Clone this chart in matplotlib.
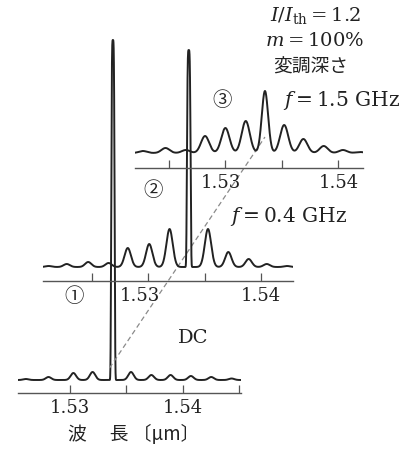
import numpy as np
import matplotlib
matplotlib.use("Agg")
import matplotlib.pyplot as plt
from matplotlib.transforms import ScaledTranslation

plt.rcParams['font.family'] = ['DejaVu Serif']
plt.rcParams['mathtext.fontset'] = 'dejavuserif'

INK = '#222222'
CJK = ['Noto Sans CJK JP', 'DejaVu Sans']

# ピーク波長 [um] と強度 (任意単位)
dc_wl = [1.5261, 1.5281, 1.5303, 1.5320, 1.5338, 1.5354, 1.5372, 1.5389, 1.5407, 1.5425, 1.5443]
dc_int = [1, 3, 7, 8, 340, 8, 5, 5, 4, 3, 1.5]

f04_wl = [1.5212, 1.5228, 1.5247, 1.5265, 1.5282, 1.5301, 1.5319, 1.5336, 1.5353, 1.5371, 1.5389, 1.5405, 1.5423]
f04_int = [1, 3, 5, 4, 19, 23, 38, 217, 38, 15, 8, 3, 1]

f15_wl = [1.5227, 1.5247, 1.5265, 1.5282, 1.5300, 1.5318, 1.5335, 1.5352, 1.5369, 1.5387, 1.5404, 1.5419]
f15_int = [2, 5, 3, 17, 25, 32, 62, 28, 14, 7, 3, 1]

ticks = [1.525, 1.53, 1.535, 1.54, 1.545]
tick_labels = {1.53: '1.53', 1.54: '1.54'}
peak_wl = 1.5335

W, H = 410, 453
PX_PER_UM = 11300.0

# (xmin, xmax, 左端px, 軸px, ベースラインpx, 幅σ, 主ピークσ, 主ピーク次数)
panels = [
    (dc_wl, dc_int, 1.5254, 1.5451, 18, 393, 380, 0.00024, 0.00014, 4),
    (f04_wl, f04_int, 1.5207, 1.5428, 43, 281, 267, 0.00028, 0.00015, 4),
    (f15_wl, f15_int, 1.5220, 1.5422, 135, 168, 153, 0.00036, 0.00028, 2),
]

fig = plt.figure(figsize=(W / 100, H / 100), dpi=100)
axes = []
for wl, inten, x0, x1, left, yax, ybase, sig, sig_main, order in panels:
    ax = fig.add_axes([left / W, 1 - yax / H, (x1 - x0) * PX_PER_UM / W, yax / H])
    ax.patch.set_visible(False)
    xs = np.linspace(x0, x1, 6000)
    imax = int(np.argmax(inten))
    ys = np.zeros_like(xs)
    for i, (c, h) in enumerate(zip(wl, inten)):
        if i == imax:
            ys += h * np.exp(-0.5 * np.abs((xs - c) / sig_main) ** order)
        else:
            ys += h * np.exp(-0.5 * ((xs - c) / sig) ** 2)
    ax.plot(xs, ys, color=INK, lw=1.4, solid_joinstyle='round')
    ax.set_xlim(x0, x1)
    ax.set_ylim(-(yax - ybase), ybase)
    for sp in ['top', 'left', 'right']:
        ax.spines[sp].set_visible(False)
    ax.spines['bottom'].set_color('#555555')
    ax.spines['bottom'].set_linewidth(1.0)
    tk = [t for t in ticks if x0 - 1e-6 <= t <= x1 + 1e-6]
    ax.set_xticks(tk)
    ax.set_xticklabels([tick_labels.get(round(t, 3), '') for t in tk])
    ax.tick_params(axis='x', direction='in', length=6, width=0.9, color='#555555',
                   labelsize=13, labelcolor=INK, pad=4)
    ax.set_yticks([])
    axes.append(ax)

# 上段2つの 1.53 ラベルは縦線を避けて左へ
for ax, dx in [(axes[1], -8), (axes[2], -5)]:
    for lab in ax.get_xticklabels():
        if lab.get_text() == '1.53':
            lab.set_transform(lab.get_transform() + ScaledTranslation(dx / 100, 0, fig.dpi_scale_trans))

# 同一波長を結ぶ破線
ax1, ax3 = axes[0], axes[2]
p0 = (peak_wl, 12)
p1 = ax1.transData.inverted().transform(ax3.transData.transform((peak_wl, 16)))
ax1.plot([p0[0], p1[0]], [p0[1], p1[1]], color='#8a8a8a', lw=0.9, ls=(0, (4, 2.5)),
         clip_on=False)


def ftext(xp, yp, s, **kw):
    fig.text(xp / W, 1 - yp / H, s, color=INK, va='center', **kw)


ftext(316, 16, r'$I/I_{\rm th}=1.2$', ha='center', fontsize=14)
ftext(314, 41, r'$m=100\%$', ha='center', fontsize=14)
ftext(311, 67, '変調深さ', ha='center', fontsize=13.5, family=CJK)
ftext(283, 100, r'$f=1.5\ \mathrm{GHz}$', ha='left', fontsize=14.5)
ftext(230, 216, r'$f=0.4\ \mathrm{GHz}$', ha='left', fontsize=14.5)
ftext(193, 338, 'DC', ha='center', fontsize=14)
ftext(222, 101, '③', ha='center', fontsize=14, family=CJK)
ftext(153, 191, '②', ha='center', fontsize=14, family=CJK)
ftext(74, 297, '①', ha='center', fontsize=14, family=CJK)
ftext(134, 434, '波　 長 〔μm〕', ha='center', fontsize=13.5, family=CJK)

fig.savefig('out.png', dpi=100, facecolor='white')
